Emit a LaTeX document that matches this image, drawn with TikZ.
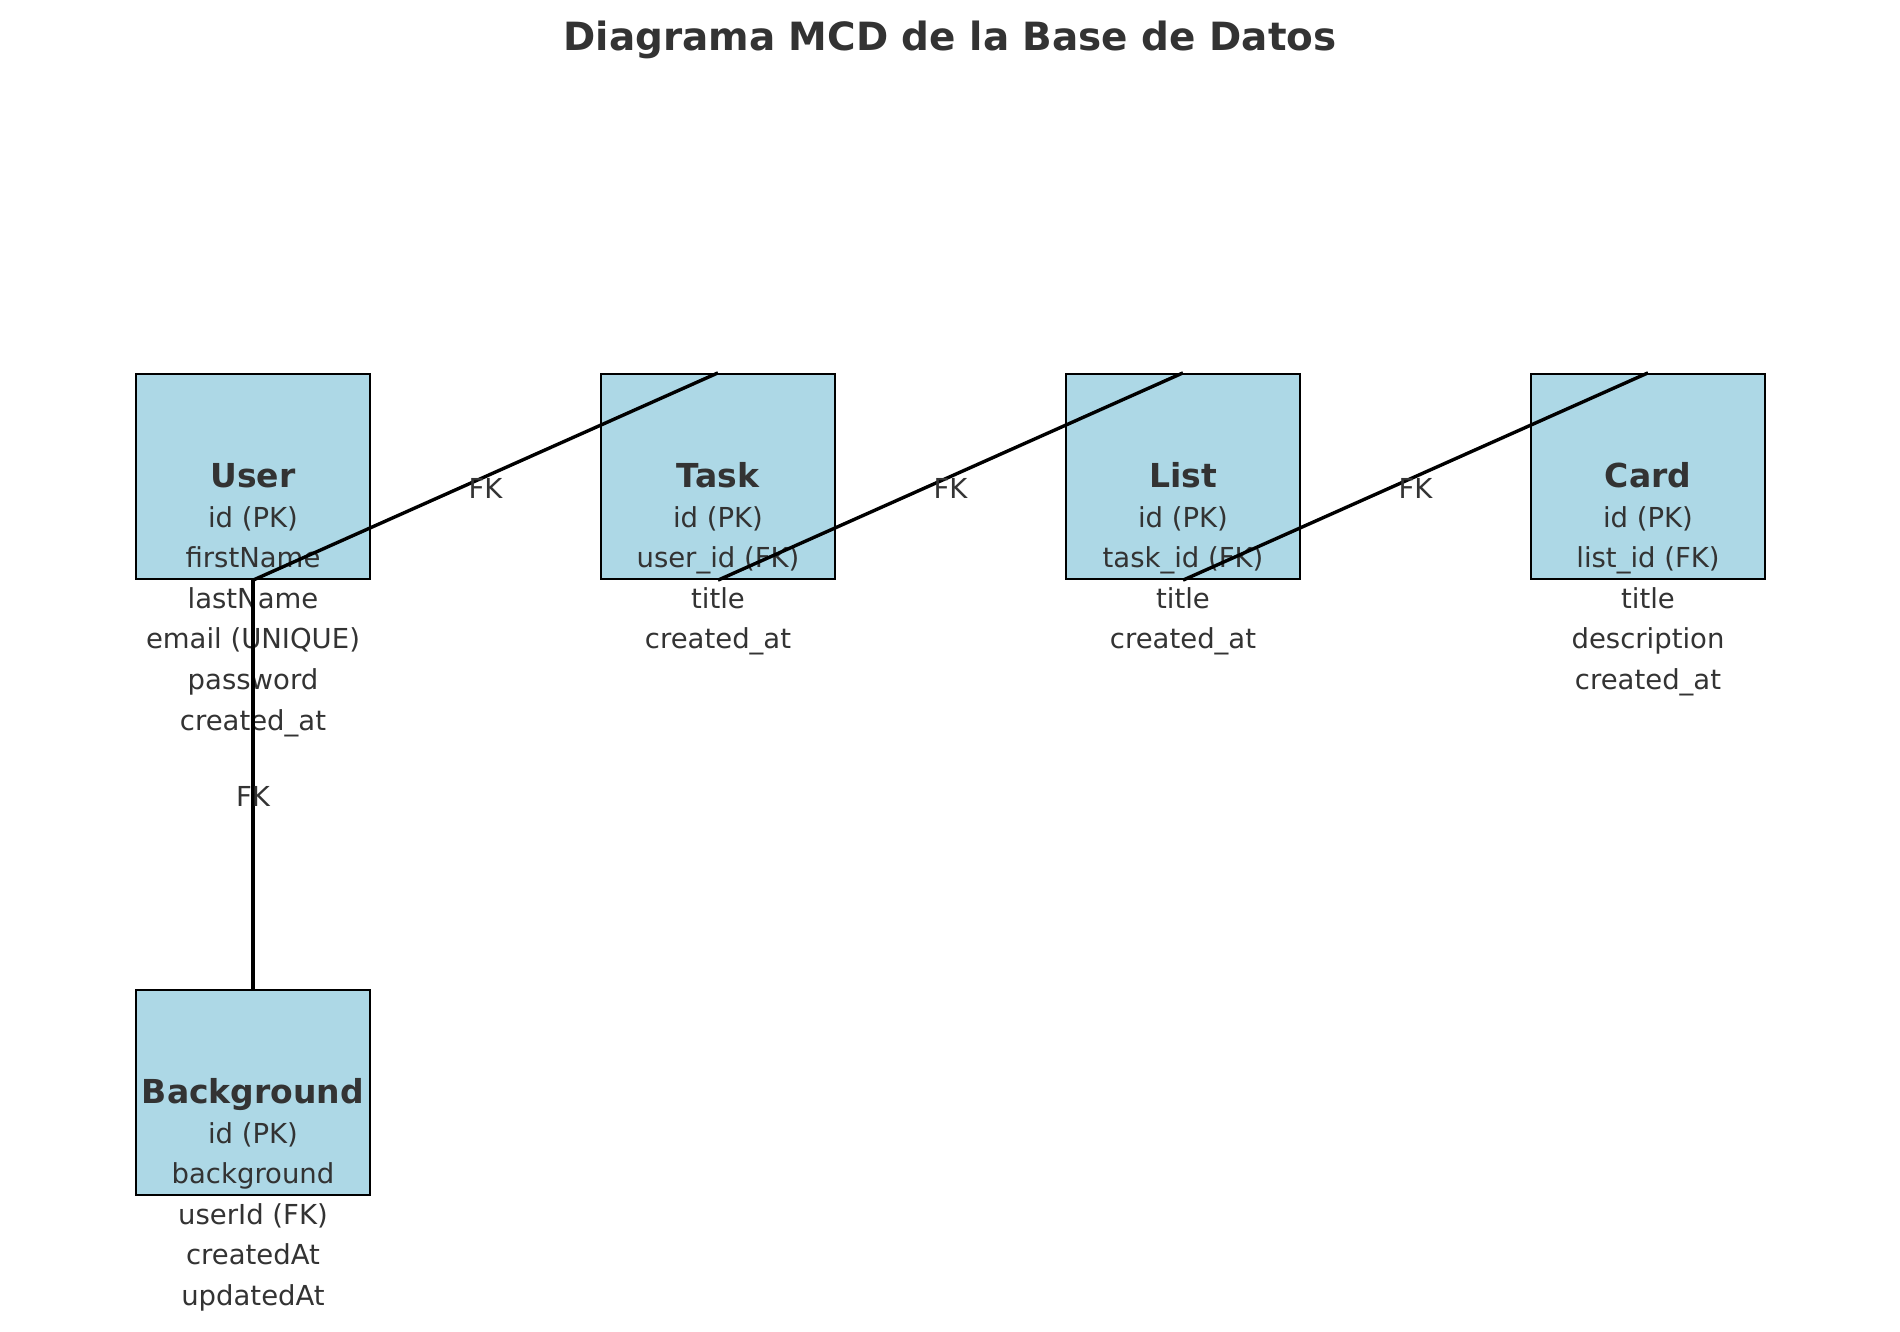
\documentclass[tikz,border=0pt]{standalone}
\usepackage{fontspec}
\setmainfont{DejaVu Sans}
\usetikzlibrary{calc}
\definecolor{boxfill}{HTML}{ADD8E6}
\definecolor{txt}{HTML}{333333}
\begin{document}
\begin{tikzpicture}[x=1pt,y=-1pt,
  entity/.style={draw=black, line width=2.3pt, fill=boxfill, minimum width=234pt, minimum height=205pt, inner sep=0pt},
  ename/.style={anchor=base, text=txt, font=\fontsize{33}{40}\selectfont\bfseries, inner sep=0pt},
  attr/.style={anchor=base, text=txt, font=\fontsize{27.5}{33}\selectfont, inner sep=0pt},
  link/.style={line width=3.4pt, draw=black},
  fk/.style={text=txt, font=\fontsize{27.5}{33}\selectfont, inner sep=0pt}]
\useasboundingbox (0,0) rectangle (1900,1332);
\node[anchor=base, text=txt, font=\fontsize{38.9}{46}\selectfont\bfseries, inner sep=0pt] (title) at (950,51) {Diagrama MCD de la Base de Datos};

% entity boxes
\node[entity] (user) at (253,476.5) {};
\node[entity] (task) at (718,476.5) {};
\node[entity] (list) at (1183,476.5) {};
\node[entity] (card) at (1648,476.5) {};
\node[entity] (bg) at (253,1092.5) {};

% names
\node[ename] (user-n) at (253,487) {User};
\node[ename] (task-n) at (718,487) {Task};
\node[ename] (list-n) at (1183,487) {List};
\node[ename] (card-n) at (1648,487) {Card};
\node[ename] (bg-n) at (253,1103) {Background};

% attributes
\foreach \t [count=\i] in {id (PK), firstName, lastName, email (UNIQUE), password, created\_at}
  \node[attr] (user-a\i) at (253,{527+40.6*(\i-1)}) {\t};
\foreach \t [count=\i] in {id (PK), user\_id (FK), title, created\_at}
  \node[attr] (task-a\i) at (718,{527+40.6*(\i-1)}) {\t};
\foreach \t [count=\i] in {id (PK), task\_id (FK), title, created\_at}
  \node[attr] (list-a\i) at (1183,{527+40.6*(\i-1)}) {\t};
\foreach \t [count=\i] in {id (PK), list\_id (FK), title, description, created\_at}
  \node[attr] (card-a\i) at (1648,{527+40.6*(\i-1)}) {\t};
\foreach \t [count=\i] in {id (PK), background, userId (FK), createdAt, updatedAt}
  \node[attr] (bg-a\i) at (253,{1143+40.6*(\i-1)}) {\t};

% connectors
\draw[link] (user.south) -- (task.north);
\draw[link] (task.south) -- (list.north);
\draw[link] (list.south) -- (card.north);
\draw[link] (user.south) -- (bg.north);

% FK labels
\node[fk] (fk1) at ($(user.south)!0.5!(task.north)+(0,11.5)$) {FK};
\node[fk] (fk2) at ($(task.south)!0.5!(list.north)+(0,11.5)$) {FK};
\node[fk] (fk3) at ($(list.south)!0.5!(card.north)+(0,11.5)$) {FK};
\node[fk] (fk4) at ($(user.south)!0.5!(bg.north)+(0,11.5)$) {FK};
\end{tikzpicture}
\end{document}
